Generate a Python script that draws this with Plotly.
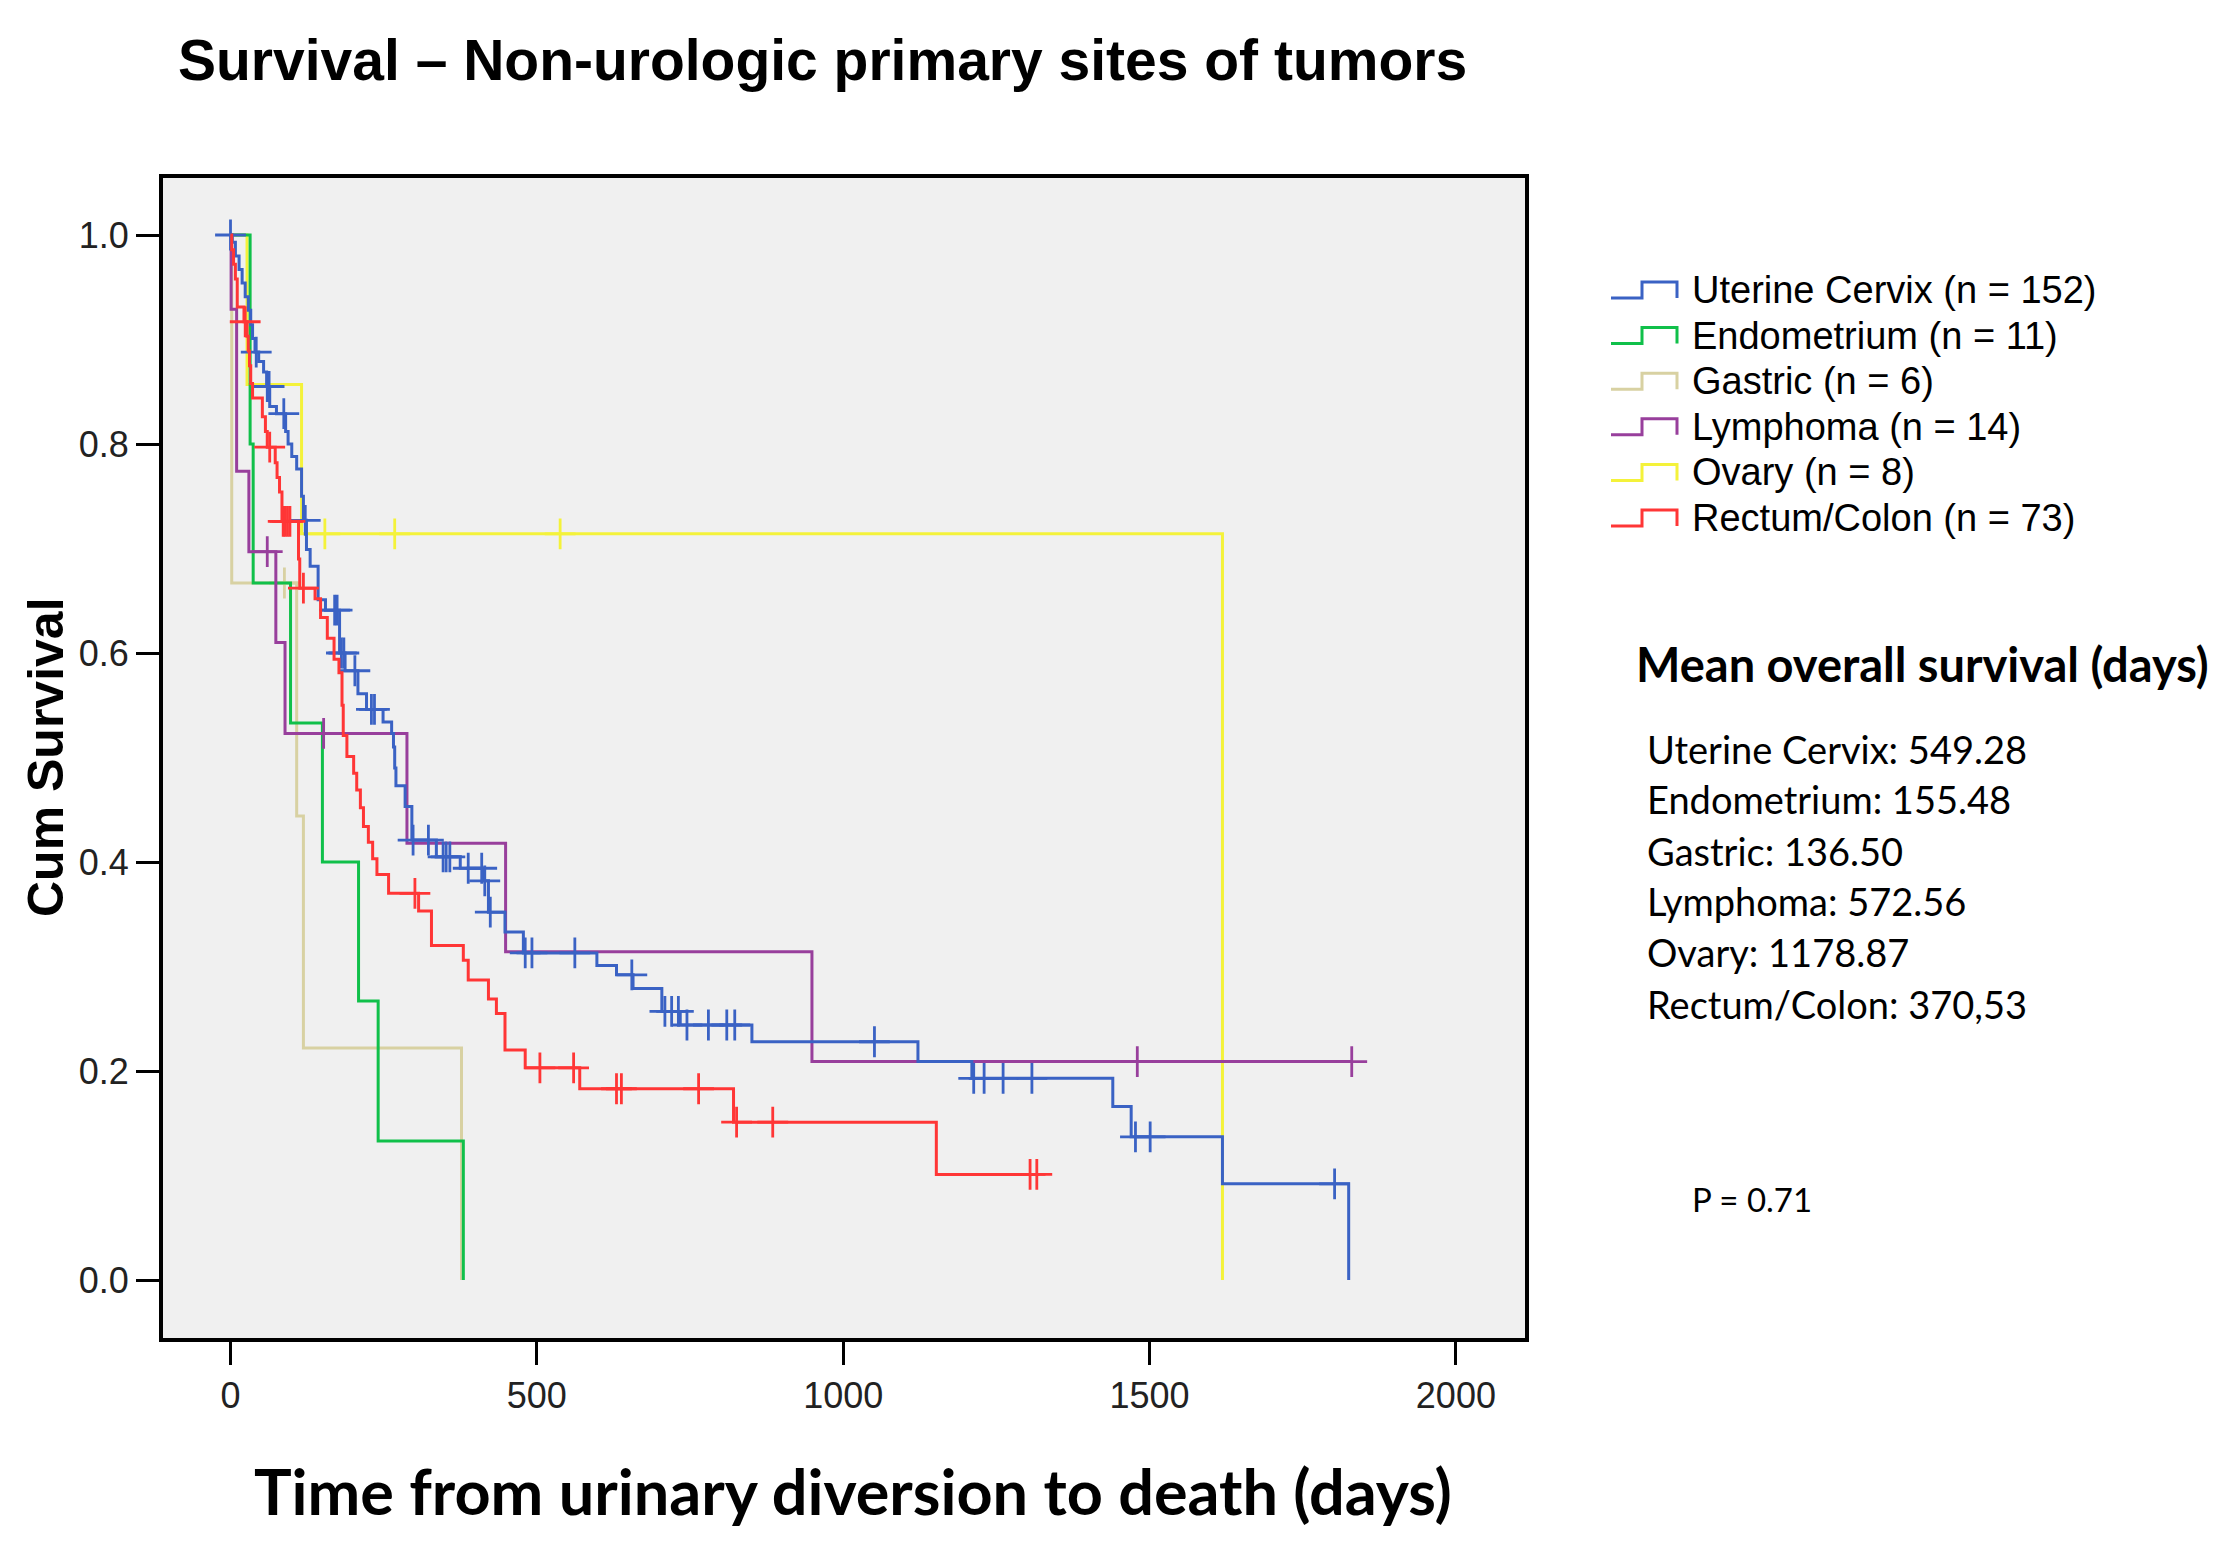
import numpy as np
import plotly.graph_objects as go

# ---------------- data ----------------
groups = ["Uterine Cervix", "Endometrium", "Gastric", "Lymphoma", "Ovary", "Rectum/Colon"]
group_n = [152, 11, 6, 14, 8, 73]
mean_survival = ["549.28", "155.48", "136.50", "572.56", "1178.87", "370,53"]
p_value = "0.71"

# Uterine Cervix
uc_t = [0, 3, 8, 14, 19, 24, 29, 33, 36, 40, 46, 54, 59, 64, 75, 90, 94, 100, 108, 116, 119,
        124, 130, 143, 155, 178, 187, 208, 222, 249, 263, 266, 268, 270, 285, 296, 336, 375,
        413, 421, 448, 478, 598, 630, 657, 704, 734, 851, 1122, 1210, 1440, 1470, 1619, 1825]
uc_s = [1.0, 0.993, 0.980, 0.967, 0.954, 0.941, 0.928, 0.914, 0.901, 0.888, 0.879, 0.869, 0.855,
        0.836, 0.829, 0.812, 0.800, 0.788, 0.776, 0.750, 0.727, 0.699, 0.683, 0.651, 0.641,
        0.600, 0.583, 0.561, 0.546, 0.534, 0.523, 0.510, 0.490, 0.473, 0.453, 0.421, 0.405,
        0.394, 0.382, 0.352, 0.333, 0.313, 0.301, 0.292, 0.279, 0.257, 0.244, 0.228, 0.209,
        0.193, 0.166, 0.137, 0.092, 0.0]
uc_c = [0, 42, 60, 63, 87, 122, 170, 174, 181, 185, 203, 230, 235, 298, 323, 347, 352, 358,
        388, 410, 415, 424, 481, 492, 562, 655, 709, 720, 731, 745, 780, 810, 823, 1051,
        1213, 1230, 1261, 1308, 1477, 1501, 1802]
uc_end = 1825

# Endometrium
en_t = [0, 32, 37, 98, 150, 209, 241, 380]
en_s = [1.0, 0.800, 0.667, 0.533, 0.400, 0.267, 0.133, 0.0]
en_c = []
en_end = 380

# Gastric
ga_t = [0, 2, 108, 119, 377]
ga_s = [1.0, 0.667, 0.444, 0.222, 0.0]
ga_c = [88]
ga_end = 377

# Lymphoma
ly_t = [0, 1, 10, 30, 74, 89, 288, 449, 949]
ly_s = [1.0, 0.929, 0.774, 0.697, 0.610, 0.523, 0.418, 0.314, 0.209]
ly_c = [60, 152, 1480, 1830]
ly_end = 1830

# Ovary
ov_t = [0, 27, 116, 1619]
ov_s = [1.0, 0.857, 0.714, 0.0]
ov_c = [154, 268, 538]
ov_end = 1619

# Rectum/Colon
rc_t = [0, 2, 5, 8, 11, 22, 27, 29, 31, 33, 36, 52, 57, 60, 73, 76, 80, 84, 111, 113, 138,
        147, 158, 169, 177, 182, 184, 190, 201, 206, 212, 217, 225, 232, 239, 258, 307, 328,
        380, 388, 421, 434, 448, 481, 570, 821, 1152]
rc_s = [1.0, 0.986, 0.972, 0.958, 0.931, 0.917, 0.903, 0.889, 0.875, 0.858, 0.844, 0.826,
        0.812, 0.797, 0.782, 0.768, 0.754, 0.726, 0.690, 0.662, 0.652, 0.634, 0.614, 0.594,
        0.581, 0.550, 0.521, 0.501, 0.485, 0.469, 0.452, 0.434, 0.419, 0.403, 0.388, 0.370,
        0.353, 0.320, 0.306, 0.287, 0.269, 0.255, 0.220, 0.203, 0.183, 0.151, 0.101]
rc_c = [24, 64, 86, 89, 93, 97, 119, 301, 505, 560, 630, 638, 764, 826, 885, 1305, 1316]
rc_end = 1320

x_ticks = [0, 500, 1000, 1500, 2000]
y_ticks = [0.0, 0.2, 0.4, 0.6, 0.8, 1.0]

colors = {
    "Uterine Cervix": "#3a62c4",
    "Endometrium": "#10c04a",
    "Gastric": "#d8d1a2",
    "Lymphoma": "#983f9c",
    "Ovary": "#f4f23a",
    "Rectum/Colon": "#ff3636",
}

series = {
    "Uterine Cervix": (uc_t, uc_s, uc_c, uc_end),
    "Endometrium": (en_t, en_s, en_c, en_end),
    "Gastric": (ga_t, ga_s, ga_c, ga_end),
    "Lymphoma": (ly_t, ly_s, ly_c, ly_end),
    "Ovary": (ov_t, ov_s, ov_c, ov_end),
    "Rectum/Colon": (rc_t, rc_s, rc_c, rc_end),
}
draw_order = ["Ovary", "Gastric", "Endometrium", "Lymphoma", "Uterine Cervix", "Rectum/Colon"]

# ---------------- layout geometry (pixels) ----------------
W, H = 2234, 1554
L, R, T, B = 163, 1525, 178, 1338


def px(x):
    return (x - L) / (R - L)


def py(y):
    return (B - y) / (B - T)


fig = go.Figure()

for name in draw_order:
    t, s, c, end = series[name]
    xs = list(t) + ([end] if end > t[-1] else [])
    ys = list(s) + ([s[-1]] if end > t[-1] else [])
    fig.add_trace(go.Scatter(
        x=xs, y=ys, mode="lines", line=dict(color=colors[name], width=3, shape="hv"),
        name=name, showlegend=False, hoverinfo="skip"))
    if c:
        idx = np.searchsorted(np.array(t), np.array(c), side="right") - 1
        cy = np.array(s)[idx]
        fig.add_trace(go.Scatter(
            x=c, y=cy, mode="markers",
            marker=dict(symbol="cross-thin", size=22, color=colors[name],
                        line=dict(color=colors[name], width=2.8)),
            showlegend=False, hoverinfo="skip"))

annotations = []
shapes = []

# title
annotations.append(dict(
    x=px(822), y=py(60), xref="paper", yref="paper", xanchor="center", yanchor="middle",
    text="<b>Survival – Non-urologic primary sites of tumors</b>", showarrow=False,
    font=dict(family="Liberation Sans", size=57, color="black")))
# y-axis title
annotations.append(dict(
    x=px(46), y=py(757), xref="paper", yref="paper", xanchor="center", yanchor="middle",
    text="<b>Cum Survival</b>", textangle=-90, showarrow=False,
    font=dict(family="Liberation Sans", size=50, color="black")))
# x-axis title
annotations.append(dict(
    x=px(853), y=py(1490), xref="paper", yref="paper", xanchor="center", yanchor="middle",
    text="<b>Time from urinary diversion to death (days)</b>", showarrow=False,
    font=dict(family="Lato", size=63, color="black")))

# manual legend with step glyphs
for i, name in enumerate(groups):
    yc = 290 + 45.6 * i
    x0, x1, x2 = 1611, 1642, 1677
    yb, yt = yc + 8, yc - 8
    path = (f"M {px(x0)},{py(yb)} L {px(x1)},{py(yb)} L {px(x1)},{py(yt)} "
            f"L {px(x2)},{py(yt)} L {px(x2)},{py(yb)}")
    shapes.append(dict(type="path", xref="paper", yref="paper", path=path,
                       line=dict(color=colors[name], width=3)))
    annotations.append(dict(
        x=px(1690), y=py(yc), xref="paper", yref="paper", xanchor="left", yanchor="middle",
        text=f"{name} (n = {group_n[i]})", showarrow=False,
        font=dict(family="Liberation Sans", size=38, color="black")))

# mean survival block
annotations.append(dict(
    x=px(1634), y=py(664), xref="paper", yref="paper", xanchor="left", yanchor="middle",
    text="<b>Mean overall survival (days)</b>", showarrow=False,
    font=dict(family="Lato", size=47, color="black")))
row_y = [749, 799, 851, 901, 952, 1004]
for i, name in enumerate(groups):
    annotations.append(dict(
        x=px(1645), y=py(row_y[i]), xref="paper", yref="paper", xanchor="left",
        yanchor="middle", text=f"{name}: {mean_survival[i]}", showarrow=False,
        font=dict(family="Lato", size=38, color="black")))
annotations.append(dict(
    x=px(1690), y=py(1199), xref="paper", yref="paper", xanchor="left", yanchor="middle",
    text=f"P = {p_value}", showarrow=False, font=dict(family="Lato", size=33, color="black")))

x_lo = (L - 230.5) / 0.6127
x_hi = (R - 230.5) / 0.6127
y_hi = (1280 - T) / 1045
y_lo = (1280 - B) / 1045

axis_common = dict(showgrid=False, zeroline=False, showline=True, mirror=True,
                   linecolor="black", linewidth=4, ticks="outside", ticklen=23,
                   tickwidth=2.5, tickcolor="black",
                   tickfont=dict(family="Liberation Sans", size=36, color="#222222"))

fig.update_layout(
    width=W, height=H,
    margin=dict(l=L, r=W - R, t=T, b=H - B, pad=0),
    paper_bgcolor="white", plot_bgcolor="#f0f0f0",
    showlegend=False,
    xaxis=dict(range=[x_lo, x_hi], tickvals=x_ticks, **axis_common),
    yaxis=dict(range=[y_lo, y_hi], tickvals=y_ticks, tickformat=".1f", **axis_common),
    annotations=annotations, shapes=shapes,
)

fig.write_html("out.html", config={"displayModeBar": False},
               post_script="document.body.style.margin='0';")
